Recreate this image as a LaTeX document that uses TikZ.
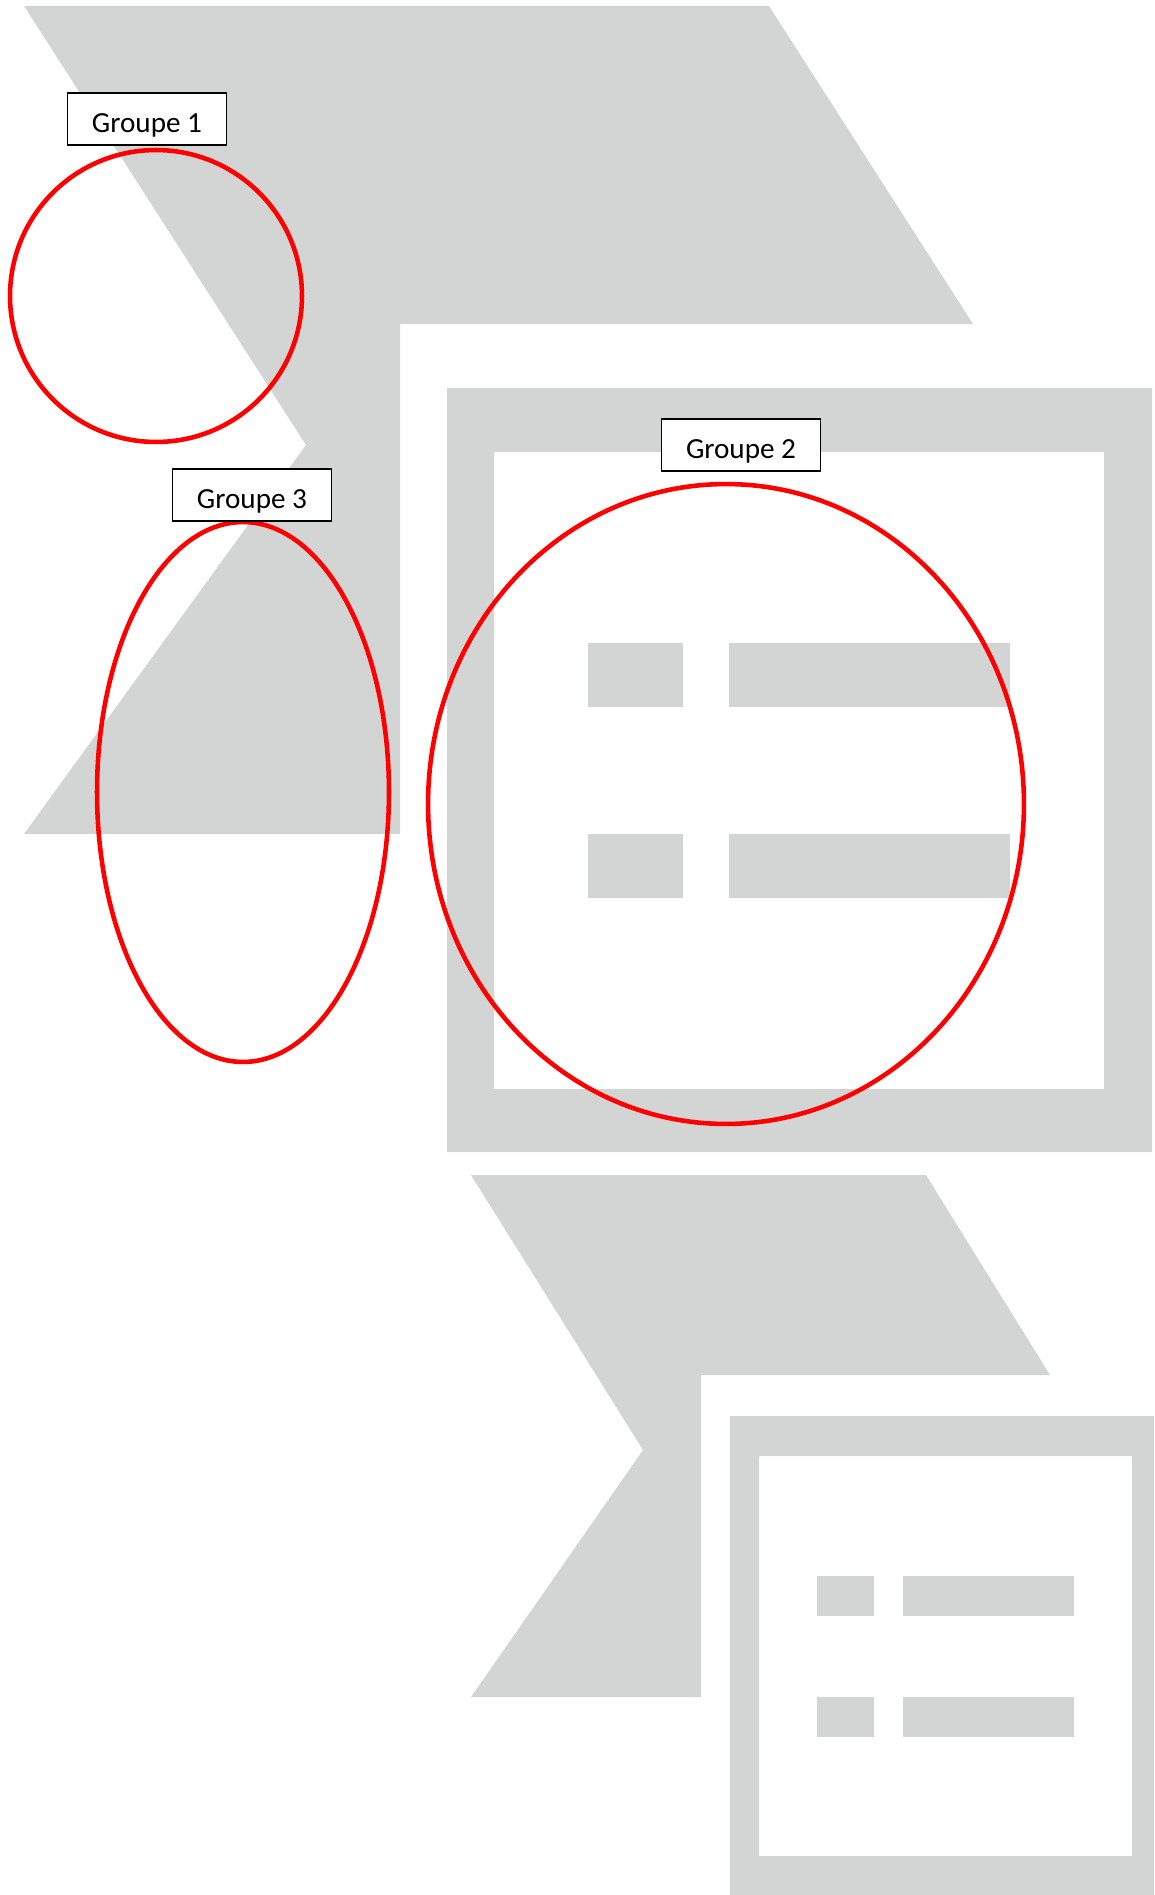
\documentclass[tikz,border=0pt]{standalone}
\usepackage{fontspec}
\setmainfont{Carlito}
\usetikzlibrary{positioning,shapes.geometric}
\definecolor{fondgris}{RGB}{211,213,212}

\begin{document}
\begin{tikzpicture}[
  x=0.02cm, y=-0.02cm,
  piece/.style={fill=fondgris},
  zone/.style={draw=red, line width=2.6pt, inner sep=0pt},
  etiquette/.style={draw, fill=white, line width=0.9pt, minimum width=3.18cm,
    minimum height=1.04cm, inner sep=0pt, text height=0.62cm, text depth=0.08cm,
    font=\fontsize{16.6}{20}\selectfont}
]
\useasboundingbox (0,0) rectangle (1154,1895);
% Upper chevron and large frame
\fill[piece] (24,6) -- (769,6) -- (973,324) -- (400,324) -- (400,834)
  -- (24,834) -- (306,445) -- cycle;
\fill[piece, even odd rule] (447,388) rectangle (1152,1152)
  (494,452) rectangle (1104,1089);
\fill[piece] (588,643) rectangle (683,707);
\fill[piece] (729,643) rectangle (1010,707);
\fill[piece] (588,834) rectangle (683,898);
\fill[piece] (729,834) rectangle (1010,898);
% Lower chevron and small frame
\fill[piece] (471,1175) -- (926,1175) -- (1050,1375) -- (701,1375) -- (701,1697)
  -- (471,1697) -- (643,1450) -- cycle;
\fill[piece, even odd rule] (730,1416) rectangle (1154,1895)
  (759,1456) rectangle (1132,1856);
\fill[piece] (817,1576) rectangle (874,1616);
\fill[piece] (903,1576) rectangle (1074,1616);
\fill[piece] (817,1697) rectangle (874,1737);
\fill[piece] (903,1697) rectangle (1074,1737);
% Groups
\node[zone, circle, minimum size=5.84cm] (g1) at (156,296) {};
\node[zone, ellipse, minimum width=5.84cm, minimum height=10.8cm] (g3) at (243,792) {};
\node[zone, ellipse, minimum width=11.92cm, minimum height=12.8cm] (g2) at (726,804) {};
\node[etiquette] (lab1) at (147,119) {Groupe 1};
\node[etiquette] (lab3) at (252,495) {Groupe 3};
\node[etiquette] (lab2) at (741,445) {Groupe 2};
\end{tikzpicture}
\end{document}
